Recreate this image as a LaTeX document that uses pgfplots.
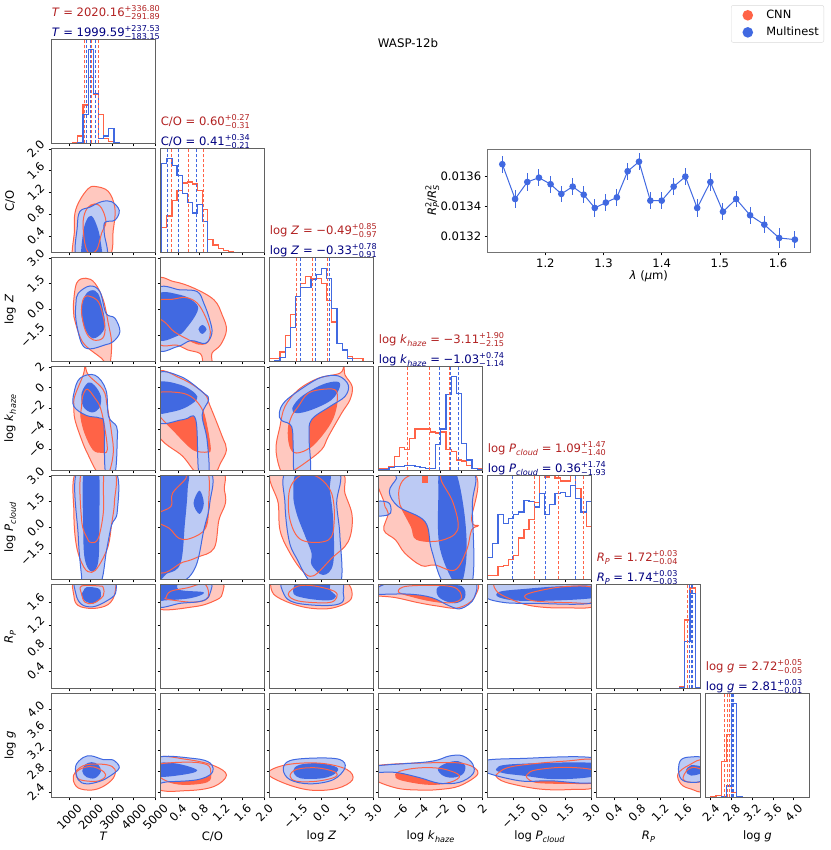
\documentclass[border=0pt]{standalone}
\usepackage{fontspec}
\setmainfont{DejaVu Sans}
\usepackage{pgfplots}
\pgfplotsset{compat=1.18}
\definecolor{tm}{HTML}{FF6347}
\definecolor{rb}{HTML}{4169E1}
\definecolor{lr}{HTML}{FFC8BF}
\definecolor{lb}{HTML}{BCCAF4}
\definecolor{fb}{HTML}{B22222}
\definecolor{nv}{HTML}{000080}
\newcommand\fsz{\fontsize{11.6}{14}\selectfont}
\newcommand\rb[1]{\rotatebox{45}{#1}}
\newcommand\sbs[1]{\raisebox{-.25em}{\fontsize{8.1}{9}\selectfont\textit{#1}}}
\newcommand\pms[2]{\makebox[0pt][l]{\raisebox{.42em}{\fontsize{8.1}{9}\selectfont #1}}\raisebox{-.32em}{\fontsize{8.1}{9}\selectfont #2}}
\newcommand\ttl[2]{%
 \node[anchor=base west,inner sep=0pt,text=fb,font=\fsz] at (axis description cs:0,1) [yshift=23.7pt] {#1};
 \node[anchor=base west,inner sep=0pt,text=nv,font=\fsz] at (axis description cs:0,1) [yshift=3.7pt] {#2};}
\pgfplotsset{
 rf/.style={smooth cycle,tension=.6,fill=lr,draw=none},
 rd/.style={smooth cycle,tension=.6,fill=tm,draw=none},
 bf/.style={smooth cycle,tension=.6,fill=lb,draw=none},
 bd/.style={smooth cycle,tension=.6,fill=rb,draw=none},
 rl/.style={smooth cycle,tension=.6,draw=tm,line width=1pt},
 bl/.style={smooth cycle,tension=.6,draw=rb,line width=1pt},
 hr/.style={const plot,color=tm,line width=1.2pt},
 hb/.style={const plot,color=rb,line width=1.2pt},
 qr/.style={color=tm,line width=1pt,dash pattern=on 3pt off 2pt},
 qb/.style={color=rb,line width=1pt,dash pattern=on 3pt off 2pt},
 P/.style n args={2}{at={({51.6pt+109pt*#1},{706.7pt-109pt*#2})},anchor=south west,scale only axis,width=103.7pt,height=103.4pt,
   axis on top,clip mode=individual,tick align=outside,tick pos=left,major tick length=3pt,
   axis line style={draw=black!62,line width=.9pt},tick style={black,line width=.7pt},
   tick label style={font=\fsz},label style={font=\fsz},
   xticklabels={},yticklabels={},
   xlabel style={at={(axis description cs:.5,-.38)},anchor=center},
   ylabel style={at={(axis description cs:-.40,.5)},anchor=center},
   xticklabel style={anchor=north,inner sep=1pt,yshift=-2pt},
   yticklabel style={anchor=east,inner sep=1pt,xshift=-2pt}},
 D/.style={ymin=0,ymax=1,ytick=\empty},
 xT/.style={xmin=178,xmax=5000,xtick={1000,2000,3000,4000,5000}},
 xC/.style={xmin=.08,xmax=2,xtick={.4,.8,1.2,1.6,2}},
 xZ/.style={xmin=-3,xmax=3,xtick={-1.5,0,1.5,3}},
 xK/.style={xmin=-8,xmax=2,xtick={-6,-4,-2,0,2}},
 xP/.style={xmin=-3,xmax=3,xtick={-1.5,0,1.5,3}},
 xR/.style={xmin=.1,xmax=1.9,xtick={.4,.8,1.2,1.6}},
 xG/.style={xmin=2.3,xmax=4.3,xtick={2.4,2.8,3.2,3.6,4}},
 yC/.style={ymin=.1,ymax=2,ytick={.4,.8,1.2,1.6,2}},
 yZ/.style={ymin=-3,ymax=3,ytick={-1.5,0,1.5,3}},
 yK/.style={ymin=-8,ymax=2,ytick={-6,-4,-2,0,2}},
 yP/.style={ymin=-3,ymax=3,ytick={-1.5,0,1.5,3}},
 yR/.style={ymin=.1,ymax=1.9,ytick={.4,.8,1.2,1.6}},
 yG/.style={ymin=2.3,ymax=4.3,ytick={2.4,2.8,3.2,3.6,4}},
 lxT/.style={xticklabels={\rb{1000},\rb{2000},\rb{3000},\rb{4000},\rb{5000}},xlabel={\textit{T}}},
 lxC/.style={xticklabels={\rb{0.4},\rb{0.8},\rb{1.2},\rb{1.6},\rb{2.0}},xlabel={C/O}},
 lxZ/.style={xticklabels={\rb{−1.5},\rb{0.0},\rb{1.5},\rb{3.0}},xlabel={log \textit{Z}}},
 lxK/.style={xticklabels={\rb{−6},\rb{−4},\rb{−2},\rb{0},\rb{2}},xlabel={log \textit{k}\sbs{haze}}},
 lxP/.style={xticklabels={\rb{−1.5},\rb{0.0},\rb{1.5},\rb{3.0}},xlabel={log \textit{P}\sbs{cloud}}},
 lxR/.style={xticklabels={\rb{0.4},\rb{0.8},\rb{1.2},\rb{1.6}},xlabel={\textit{R}\sbs{P}}},
 lxG/.style={xticklabels={\rb{2.4},\rb{2.8},\rb{3.2},\rb{3.6},\rb{4.0}},xlabel={log \textit{g}}},
 lyC/.style={yticklabels={\rb{0.4},\rb{0.8},\rb{1.2},\rb{1.6},\rb{2.0}},ylabel={C/O}},
 lyZ/.style={yticklabels={\rb{−1.5},\rb{0.0},\rb{1.5},\rb{3.0}},ylabel={log \textit{Z}}},
 lyK/.style={yticklabels={\rb{−6},\rb{−4},\rb{−2},\rb{0},\rb{2}},ylabel={log \textit{k}\sbs{haze}}},
 lyP/.style={yticklabels={\rb{−1.5},\rb{0.0},\rb{1.5},\rb{3.0}},ylabel={log \textit{P}\sbs{cloud}}},
 lyR/.style={yticklabels={\rb{0.4},\rb{0.8},\rb{1.2},\rb{1.6}},ylabel={\textit{R}\sbs{P}}},
 lyG/.style={yticklabels={\rb{2.4},\rb{2.8},\rb{3.2},\rb{3.6},\rb{4.0}},ylabel={log \textit{g}}},
}
% #1 red outer, #2 red inner, #3 blue outer, #4 blue inner
\newcommand\pan[4]{%
 \def\C##1{\addplot[rf] coordinates {##1};}#1%
 \def\C##1{\addplot[rd] coordinates {##1};}#2%
 \def\C##1{\addplot[bf] coordinates {##1};}#3%
 \def\C##1{\addplot[bd] coordinates {##1};}#4%
 \def\C##1{\addplot[rl] coordinates {##1};}#1#2%
 \def\C##1{\addplot[bl] coordinates {##1};}#3%
}
% #1 red hist, #2 blue hist, #3 red quantiles, #4 blue quantiles
\newcommand\hist[8]{%
 \addplot[hr] coordinates {#1};
 \addplot[hb] coordinates {#2};
 \addplot[qr] coordinates {(#3,0)(#3,1)};
 \addplot[qr] coordinates {(#4,0)(#4,1)};
 \addplot[qr] coordinates {(#5,0)(#5,1)};
 \addplot[qb] coordinates {(#6,0)(#6,1)};
 \addplot[qb] coordinates {(#7,0)(#7,1)};
 \addplot[qb] coordinates {(#8,0)(#8,1)};
}
\begin{document}
\begin{tikzpicture}
\path[use as bounding box] (0,0) rectangle (830pt,850pt);
\node[font=\fontsize{11.8}{15}\selectfont] at (408pt,807pt) {WASP-12b};

% ---------- inset spectrum, with the figure legend
\begin{axis}[at={(487.7pt,597.7pt)},anchor=south west,scale only axis,width=322.3pt,height=103pt,
  xmin=1.1009,xmax=1.655,ymin=.013093,ymax=.013783,axis on top,
  tick align=outside,tick pos=left,major tick length=3pt,
  axis line style={draw=black!55,line width=1pt},tick style={black,line width=.7pt},
  tick label style={font=\fsz},label style={font=\fsz},scaled y ticks=false,
  xtick={1.2,1.3,1.4,1.5,1.6},xticklabels={1.2,1.3,1.4,1.5,1.6},
  ytick={.0132,.0134,.0136},yticklabels={0.0132,0.0134,0.0136},
  xlabel={\textit{λ} (\textit{μ}m)},ylabel={\textit{R}\makebox[0pt][l]{\raisebox{.42em}{\fontsize{8.1}{9}\selectfont 2}}\sbs{P}/\textit{R}\makebox[0pt][l]{\raisebox{.42em}{\fontsize{8.1}{9}\selectfont 2}}\sbs{S}},
  xlabel style={at={(axis description cs:.5,-.237)},anchor=center},
  ylabel style={at={(axis description cs:-.172,.5)},anchor=center},
  legend style={at={(1.0434,2.40)},anchor=north east,font=\fontsize{11.4}{14}\selectfont,
    draw=black!15,rounded corners=2pt,fill=white,row sep=3pt,inner xsep=3pt,inner ysep=3pt},
  legend cell align=left]
\addlegendimage{legend image code/.code={\path[draw=none,fill=none] (0pt,-5pt) rectangle (30pt,5pt);\fill[tm,draw=none] (13.5pt,0pt) circle (5.3pt);}}
\addlegendentry{CNN}
\addlegendimage{legend image code/.code={\path[draw=none,fill=none] (0pt,-5pt) rectangle (30pt,5pt);\fill[rb,draw=none] (13.5pt,0pt) circle (5.3pt);}}
\addlegendentry{Multinest}
\addplot[rb,line width=1pt,mark=*,mark size=2.8pt,mark options={fill=rb,draw=rb},
  error bars/.cd,y dir=both,y explicit,error bar style={rb,line width=1pt},error mark=none]
 coordinates {
 (1.126,.013683) +- (0,.000056) (1.148,.01345) +- (0,.000058) (1.169,.013564) +- (0,.000062)
 (1.189,.013593) +- (0,.000056) (1.209,.013549) +- (0,.000058) (1.2275,.013484) +- (0,.000056)
 (1.247,.013533) +- (0,.000058) (1.266,.013479) +- (0,.000056) (1.285,.01339) +- (0,.000058)
 (1.304,.013426) +- (0,.000058) (1.323,.013461) +- (0,.000056) (1.3415,.013636) +- (0,.000056)
 (1.361,.0137) +- (0,.000056) (1.3805,.013439) +- (0,.000056) (1.40,.013439) +- (0,.000058)
 (1.4206,.013533) +- (0,.000056) (1.4407,.0136) +- (0,.000058) (1.461,.01339) +- (0,.000062)
 (1.4837,.013564) +- (0,.000058) (1.5054,.013365) +- (0,.000058) (1.528,.01345) +- (0,.000056)
 (1.552,.013341) +- (0,.000058) (1.5765,.013278) +- (0,.000058) (1.602,.013189) +- (0,.000065)
 (1.629,.013178) +- (0,.000058)};
\end{axis}

% ---------- diagonal histograms
\begin{axis}[P={0}{0},xT,D]
\hist{(1160,0)(1160,.01)(1400,.07)(1640,.37)(1880,.64)(2120,.47)(2360,.28)(2600,.05)(2840,.02)(3080,.01)(3320,0)}
 {(1400,0)(1400,.01)(1640,.28)(1880,.91)(2120,.48)(2360,.05)(2600,.07)(2840,.145)(3080,.01)(3320,0)}
 {1728.27}{2020.16}{2356.96}{1816.44}{1999.59}{2237.12}
\ttl{\textit{T} = 2020.16\pms{+336.80}{−291.89}}{\textit{T} = 1999.59\pms{+237.53}{−183.15}}
\end{axis}
\begin{axis}[P={1}{1},xC,D]
\hist{(.1,0)(.1,.24)(.195,.35)(.29,.5)(.385,.6)(.48,.67)(.575,.68)(.67,.66)(.765,.6)(.86,.41)(.955,.12)(1.05,.07)(1.145,.04)(1.24,.02)(1.335,.01)(1.43,0)}
 {(.1,0)(.1,.86)(.195,.91)(.29,.84)(.385,.745)(.48,.57)(.575,.48)(.67,.38)(.765,.46)(.86,.3)(.955,0)(1.05,0)}
 {.29}{.60}{.87}{.20}{.41}{.75}
\ttl{C/O = 0.60\pms{+0.27}{−0.31}}{C/O = 0.41\pms{+0.34}{−0.21}}
\end{axis}
\begin{axis}[P={2}{2},xZ,D]
\hist{(-3,0)(-3,.03)(-2.7,.03)(-2.4,.09)(-2.1,.25)(-1.8,.45)(-1.5,.63)(-1.2,.75)(-.9,.82)(-.6,.8)(-.3,.8)(0,.75)(.3,.59)(.6,.38)(.9,.17)(1.2,.11)(1.5,.05)(1.8,.03)(2.1,.03)(2.4,0)}
 {(-3,0)(-3,0)(-2.7,.01)(-2.4,.04)(-2.1,.13)(-1.8,.33)(-1.5,.63)(-1.2,.71)(-.9,.71)(-.6,.79)(-.3,.84)(0,.9)(.3,.8)(.6,.51)(.9,.17)(1.2,.11)(1.5,.03)(1.8,0)}
 {-1.46}{-.49}{.36}{-1.24}{-.33}{.45}
\ttl{log \textit{Z} = −0.49\pms{+0.85}{−0.97}}{log \textit{Z} = −0.33\pms{+0.78}{−0.91}}
\end{axis}
\begin{axis}[P={3}{3},xK,D]
\hist{(-8,0)(-8,.02)(-7.5,.02)(-7,.04)(-6.5,.13)(-6,.22)(-5.5,.2)(-5,.31)(-4.5,.4)(-4,.4)(-3.5,.4)(-3,.37)(-2.5,.36)(-2,.37)(-1.5,.2)(-1,.18)(-.5,.1)(0,.09)(.5,.05)(1,.02)(1.5,.02)(2,0)}
 {(-8,0)(-8,.01)(-7.5,.01)(-7,.03)(-6.5,.04)(-6,.04)(-5.5,.05)(-5,.05)(-4.5,.04)(-4,.03)(-3.5,.02)(-3,.02)(-2.5,.25)(-2,.4)(-1.5,.73)(-1,.91)(-.5,.74)(0,.26)(.5,.1)(1,.02)(1.5,.01)(2,0)}
 {-5.26}{-3.11}{-1.21}{-2.17}{-1.03}{-.29}
\ttl{log \textit{k}\sbs{haze} = −3.11\pms{+1.90}{−2.15}}{log \textit{k}\sbs{haze} = −1.03\pms{+0.74}{−1.14}}
\end{axis}
\begin{axis}[P={4}{4},xP,D]
\hist{(-3,0)(-3,.04)(-2.7,.04)(-2.4,.12)(-2.1,.13)(-1.8,.19)(-1.5,.23)(-1.2,.4)(-.9,.48)(-.6,.58)(-.3,.74)(0,1.1)(.3,.99)(.6,1.1)(.9,.98)(1.2,.95)(1.5,.95)(1.8,1.1)(2.1,.88)(2.4,.65)(2.7,.51)(3,0)}
 {(-3,0)(-3,.21)(-2.7,.35)(-2.4,.63)(-2.1,.54)(-1.8,.59)(-1.5,.63)(-1.2,.65)(-.9,.76)(-.6,.75)(-.3,.7)(0,.83)(.3,.63)(.6,.72)(.9,.83)(1.2,.84)(1.5,.8)(1.8,.91)(2.1,.78)(2.4,.65)(2.7,.75)(3,0)}
 {-.31}{1.09}{2.56}{-1.57}{.36}{2.10}
\ttl{log \textit{P}\sbs{cloud} = 1.09\pms{+1.47}{−1.40}}{log \textit{P}\sbs{cloud} = 0.36\pms{+1.74}{−1.93}}
\end{axis}
\begin{axis}[P={5}{5},xR,D]
\hist{(1.54,0)(1.54,.02)(1.63,.66)(1.72,.97)(1.81,.01)(1.9,0)}
 {(1.54,0)(1.54,.005)(1.63,.45)(1.72,.92)(1.81,.01)(1.9,0)}
 {1.68}{1.72}{1.75}{1.71}{1.74}{1.77}
\ttl{\textit{R}\sbs{P} = 1.72\pms{+0.03}{−0.04}}{\textit{R}\sbs{P} = 1.74\pms{+0.03}{−0.03}}
\end{axis}
\begin{axis}[P={6}{6},xG,D,lxG]
\hist{(2.4,0)(2.4,.01)(2.5,.02)(2.6,.35)(2.7,.61)(2.8,.05)(2.9,.01)(3,0)}
 {(2.6,0)(2.6,.005)(2.7,.11)(2.8,.91)(2.9,.01)(3,0)}
 {2.67}{2.72}{2.77}{2.80}{2.81}{2.84}
\ttl{log \textit{g} = 2.72\pms{+0.05}{−0.05}}{log \textit{g} = 2.81\pms{+0.03}{−0.01}}
\end{axis}

% ---------- C/O row
\begin{axis}[P={0}{1},xT,yC,lyC]
\pan{\C{(1248,-.1)(1240,.5)(1263,.82)(1495,1.06)(1883,1.27)(2193,1.31)(2813,1.22)(3123,.91)(3045,.51)(2813,0)}}
 {\C{(1650,.69)(1836,.91)(2193,.99)(2503,.91)(2705,.66)(2503,.45)(2270,.14)(1883,.1)(1697,.33)}}
 {\C{(1372,0)(1372,.57)(1495,.85)(1960,.93)(2503,1.03)(2968,1.03)(3325,.87)(3123,.69)(2658,.65)(2627,.45)(2705,0)}}
 {\C{(1620,-.05)(1620,.4)(1790,.68)(2030,.77)(2270,.6)(2445,.33)(2470,-.05)}}
\end{axis}

% ---------- log Z row
\begin{axis}[P={0}{2},xT,yZ,lyZ]
\pan{\C{(1185,.17)(1340,1.53)(1775,1.82)(2193,1.53)(2580,.56)(2813,-.79)(2968,-1.96)(2850,-3.3)(2503,-2.83)(1805,-2.15)(1495,-1.57)(1216,-.41)}}
 {\C{(1573,.17)(1728,.75)(2115,.7)(2425,.27)(2658,-.99)(2550,-1.66)(2115,-1.76)(1805,-1.37)(1620,-.6)}}
 {\C{(1310,.37)(1418,.95)(1960,1.37)(2425,1.04)(2705,-.21)(3123,-.5)(3355,-1.28)(3045,-1.86)(2658,-2.05)(1960,-2.28)(1573,-1.96)(1310,-.6)}}
 {\C{(1573,.17)(1805,.95)(2193,1.1)(2456,.56)(2658,-.99)(2193,-1.66)(1836,-1.37)(1604,-.6)}}
\end{axis}
\begin{axis}[P={1}{2},xC,yZ]
\pan{\C{(0,1.6)(.33,1.62)(.70,1.24)(1.07,.56)(1.22,-.31)(1.30,-1.18)(1.19,-2.05)(1.03,-2.54)(1.03,-3.2)(.88,-3.2)(.82,-2.57)(.58,-2.34)(.39,-2.07)(0,-1.76)}}
 {\C{(0,.5)(.30,.6)(.55,.7)(.76,.37)(.91,-.41)(1.0,-1.28)(.94,-1.92)(.76,-1.99)(.58,-1.72)(.33,-1.28)(.18,-.79)(0,-.3)}}
 {\C{(0,1.1)(.45,1.14)(.76,1.04)(.88,.37)(.99,-.6)(1.03,-1.37)(.91,-1.96)(.64,-1.8)(.39,-2.15)(0,-2.19)}}
 {\C{(0,.8)(.45,.85)(.73,.37)(.76,-.12)(.58,-.99)(.39,-1.53)(0,-1.66)}\C{(.85,-.89)(.93,-1.14)(.85,-1.41)(.78,-1.14)}}
\end{axis}

% ---------- log k row
\begin{axis}[P={0}{3},xT,yK,lyK]
\pan{\C{(1743,2.1)(1883,1.23)(2580,-.22)(2767,-1.83)(2968,-4.4)(3045,-6.33)(2813,-8.3)(2348,-8.3)(1836,-6.33)(1573,-5.04)(1263,-3.1)(1216,-1.83)(1250,-.86)(1650,1.23)}}
 {\C{(1620,-.86)(1836,-.15)(2193,-1.02)(2425,-1.83)(2612,-3.43)(2767,-6)(2503,-6.26)(2115,-6)(1728,-4.4)(1540,-2.8)(1573,-1.83)}}
 {\C{(1216,-.54)(1495,.9)(2193,1.2)(2705,-.22)(2829,-2.79)(3200,-3.76)(3230,-5.04)(3123,-8.3)(2689,-8.3)(2612,-3.6)(2425,-2.95)(1800,-2.7)(1216,-1.83)}}
 {\C{(1573,-.54)(1883,.49)(2193,.17)(2472,-.86)(2395,-1.99)(2038,-2.4)(1650,-1.83)}}
\end{axis}
\begin{axis}[P={1}{3},xC,yK]
\pan{\C{(0,1.3)(.45,.9)(.88,-.54)(1.0,-1.83)(1.22,-4.72)(1.30,-6)(1.19,-7.3)(1.07,-8.3)(.76,-8.3)(.49,-6.65)(0,-4.2)}}
 {\C{(0,-.6)(.39,-.47)(.64,-.86)(.82,-1.83)(.91,-3.1)(1.0,-5.85)(.94,-6.23)(.76,-6.17)(.61,-5.7)(.33,-4.2)(0,-2.3)}}
 {\C{(0,1.2)(.45,1.07)(.88,-.54)(.97,-1.18)(.85,-2.63)(.94,-5.04)(.97,-8.3)(.79,-8.3)(.73,-3.1)(.5,-3.1)(0,-3.2)}}
 {\C{(0,.4)(.45,.26)(.76,-.86)(.58,-1.83)(.27,-2.37)(0,-2.3)}}
\end{axis}
\begin{axis}[P={2}{3},xZ,yK]
\pan{\C{(1.30,2.1)(1.36,1.23)(1.78,.1)(1.65,-1.18)(1.17,-2.47)(.4,-4.72)(.01,-6)(-.96,-7.3)(-1.82,-8.2)(-2.31,-8.2)(-2.63,-6)(-2.4,-3.76)(-2.11,-1.83)(-1.34,-.22)(-.18,.9)(1.07,1.39)}}
 {\C{(-1.34,-1.83)(-.76,-.54)(.2,-.15)(.88,-.38)(.82,-2.15)(.4,-3.76)(-.57,-5.69)(-1.44,-6.33)(-1.82,-5.69)(-1.92,-4.08)(-1.73,-2.79)}}
 {\C{(-2.44,-2.47)(-2.11,-1.34)(-.96,.1)(.01,1)(.97,1.13)(1.55,.26)(1.36,-.86)(.49,-1.83)(-.57,-3.1)(-.72,-4.72)(-.67,-8.3)(-1.53,-8.3)(-1.63,-6)(-1.73,-3.76)(-2.31,-3.18)}}
 {\C{(-1.69,-1.99)(-1.15,-.86)(.01,.26)(.88,.58)(1.07,.1)(.59,-1.18)(-.57,-2.15)(-1.44,-2.47)}}
\end{axis}

% ---------- log P row
\begin{axis}[P={0}{4},xT,yP,lyP]
\pan{\C{(1350,3.3)(1216,.83)(1340,-1.1)(1680,-2.3)(2038,-2.6)(2380,-2.2)(2800,-1.1)(2968,.2)(3100,1.5)(3050,3.3)}}
 {\C{(1573,3.3)(1573,.44)(1836,-.62)(2038,-.87)(2348,-.62)(2580,.83)(2580,2.2)(2503,3.3)}}
 {\C{(1372,3.3)(1418,-.52)(1573,-2.85)(1620,-3.3)(2425,-3.3)(2735,-1.3)(2968,.15)(3231,.93)(3123,3.3)}}
 {\C{(1681,3.3)(1650,-.14)(1728,-1.88)(2038,-2.55)(2348,-1.97)(2394,.44)(2348,3.3)}}
\end{axis}
\begin{axis}[P={1}{4},xC,yP]
\pan{\C{(0,3.3)(1.16,3.3)(1.26,2.19)(1.28,1.41)(1.16,.44)(1.07,-1.2)(.76,-1.72)(.5,-2)(0,-2.3)}}
 {\C{(.55,3.3)(.94,3.3)(.97,1.41)(.91,-.04)(.64,-.62)(.42,-.62)(.24,-.04)(0,.35)(0,.79)(.27,1.22)(.30,1.99)(.55,2.86)}}
 {\C{(0,3.3)(.97,3.3)(.99,1.41)(.88,-.14)(.73,-2.26)(.45,-3.2)(0,-3.2)}}
 {\C{(0,3.3)(.56,3.3)(.58,2.19)(.53,.25)(.45,-2.07)(.21,-2.65)(0,-2.55)}\C{(.8,2.15)(.88,1.41)(.8,.79)(.69,1.41)}}
\end{axis}
\begin{axis}[P={2}{4},xZ,yP]
\pan{\C{(-2.8,3.3)(-2.5,1.41)(-2.4,-.14)(-1.92,-1.3)(-1.15,-2.46)(-.47,-2.8)(.59,-1.78)(1.55,-.81)(1.78,.64)(1.36,1.99)(.97,3.3)}}
 {\C{(-1.53,2.77)(-1.88,1.99)(-1.82,.44)(-1.15,-.72)(.4,-.72)(.74,.44)(.59,1.99)(-.09,2.86)(-.9,3.1)}}
 {\C{(-1.96,3.3)(-2.11,1.41)(-1.88,-.72)(-1.44,-1.78)(-.47,-3.3)(1.07,-3.3)(1.07,-.52)(.88,1.41)(.93,3.3)}}
 {\C{(-1.34,3.3)(-1.63,1.99)(-1.44,.83)(-.9,-.6)(-.57,-1.5)(-.57,-2.17)(.1,-2.75)(.68,-2.07)(.68,.44)(.49,2.19)(.4,3.3)}}
\end{axis}
\begin{axis}[P={3}{4},xK,yP]
\pan{\C{(-7.55,3.3)(-7.45,1.41)(-7.07,.83)(-7.5,-.14)(-6.36,-.72)(-5.46,-1.49)(-3.85,-2.21)(-2.57,-2.17)(-.64,-2.46)(.49,-1.3)(.97,-.14)(1.61,.12)(.97,.44)(.97,3.3)}}
 {\C{(-5.46,2.86)(-6.04,2.19)(-5.94,1.31)(-5.62,.93)(-4.82,.02)(-4.33,-.68)(-2.08,-.76)(-.38,-.14)(-.8,1.41)(-1.92,2.67)(-2.24,3.3)(-4,3.2)}}
 {\C{(-6.1,3.3)(-6.26,2.86)(-6.97,2.09)(-6.1,1.22)(-3.53,.35)(-2.89,-1.3)(-1.6,-3.3)(.97,-3.3)(1.03,1.22)(.81,3.3)}\C{(-8.5,1.47)(-7.1,1.47)(-6.8,1.02)(-7.1,.73)(-8.5,.73)}}
 {\C{(-2.08,3.3)(-2.24,1.8)(-2.24,-.52)(-1.76,-1.88)(-.64,-3.3)(0,-3.3)(.49,-1.49)(.23,1.02)(-.64,3.3)}}
\addplot[fill=tm,draw=none] coordinates {(-3.85,3.1)(-3.2,3.1)(-3.2,2.6)(-3.85,2.6)};
\end{axis}

% ---------- R_P row
\begin{axis}[P={0}{5},xT,yR,lyR]
\pan{\C{(1310,2)(1216,1.71)(1418,1.54)(2115,1.49)(2813,1.56)(3123,1.76)(2968,2)}}
 {\C{(1573,1.88)(1573,1.74)(1728,1.6)(2115,1.58)(2580,1.71)(2580,1.85)(2425,1.88)}}
 {\C{(1372,2)(1310,1.74)(1573,1.56)(2115,1.52)(2735,1.62)(3154,1.76)(2968,2)}}
 {\C{(1650,1.79)(1573,1.72)(1728,1.62)(2115,1.58)(2425,1.65)(2472,1.76)(2348,1.84)(1805,1.86)}}
\end{axis}
\begin{axis}[P={1}{5},xC,yR]
\pan{\C{(0,2)(1.13,2)(1.22,1.74)(1.07,1.62)(.7,1.52)(0,1.5)}}
 {\C{(.18,1.68)(.27,1.79)(.58,1.85)(.88,1.92)(.97,1.76)(.91,1.64)(.64,1.6)(.21,1.65)}}
 {\C{(0,1.53)(0,2)(.94,2)(.99,1.74)(.85,1.62)(.45,1.58)}}
 {\C{(0,1.63)(0,2)(.39,2)(.41,1.82)(.88,1.77)(.64,1.67)(.15,1.63)}}
\end{axis}
\begin{axis}[P={2}{5},xZ,yR]
\pan{\C{(-2.5,2)(-2.85,1.78)(-2.11,1.62)(-.76,1.5)(.68,1.5)(1.75,1.68)(1.07,2)}}
 {\C{(-1.34,1.88)(-1.92,1.74)(-1.34,1.62)(.4,1.59)(.88,1.68)(.74,1.79)(-.38,1.88)}}
 {\C{(-2.07,2)(-2.17,1.74)(-1.53,1.59)(.2,1.54)(1.17,1.59)(1.26,1.76)(.93,2)}}
 {\C{(-1.24,2)(-1.63,1.76)(-.96,1.67)(.4,1.63)(.84,1.7)(.49,1.82)(.4,2)}}
\end{axis}
\begin{axis}[P={3}{5},xK,yR]
\pan{\C{(-8.5,1.72)(-6.42,1.68)(-4.17,1.59)(-2.24,1.53)(-.32,1.5)(1.23,1.68)(.97,2)(-6.1,2)(-8.5,1.79)}}
 {\C{(-6.1,1.78)(-5.14,1.88)(-.96,1.87)(0,1.68)(-.96,1.59)(-2.89,1.62)(-4.82,1.7)}}
 {\C{(-8.5,1.74)(-5.14,1.74)(-2.89,1.68)(-1.12,1.53)(0,1.49)(1.23,1.68)(.81,2)(-5.46,2)(-8.5,1.82)}}
 {\C{(-2.4,1.76)(-2.08,1.88)(0,1.88)(.33,1.68)(-.64,1.58)(-1.92,1.65)}}
\end{axis}
\begin{axis}[P={4}{5},xP,yR]
\pan{\C{(-2.5,1.8)(-1.24,1.6)(-.09,1.52)(1.5,1.5)(3.3,1.55)(3.3,2)(-2,2)}}
 {\C{(-.86,1.7)(-.28,1.78)(1.46,1.87)(3.1,1.85)(3.1,1.6)(1.8,1.59)(-.28,1.62)}}
 {\C{(-3.3,2)(-3.3,1.72)(-2.2,1.6)(-.5,1.58)(3.3,1.6)(3.3,2)}}
 {\C{(-2.31,1.78)(-2.31,1.68)(-.67,1.62)(3.3,1.68)(3.3,1.87)(1.46,1.88)(-.86,1.83)}}
\end{axis}

% ---------- log g row
\begin{axis}[P={0}{6},xT,yG,lxT,lyG]
\pan{\C{(1185,2.64)(1418,2.48)(2038,2.44)(2580,2.51)(3045,2.67)(3123,2.84)(2735,2.93)(1800,2.93)(1300,2.8)}}
 {\C{(1310,2.77)(1495,2.64)(2270,2.61)(2658,2.69)(2612,2.79)(2115,2.89)(1650,2.87)}}
 {\C{(1294,2.9)(1650,3.07)(2038,3.1)(2580,3.03)(3045,3.02)(3325,2.87)(2890,2.71)(2425,2.61)(1805,2.56)(1418,2.64)}}
 {\C{(1604,2.8)(1728,2.93)(2038,2.98)(2348,2.93)(2472,2.8)(2193,2.67)(1805,2.69)}}
\end{axis}
\begin{axis}[P={1}{6},xC,yG,lxC]
\pan{\C{(0,2.48)(.58,2.43)(1.07,2.51)(1.30,2.73)(1.07,2.91)(.58,3.03)(0,3.05)}}
 {\C{(0,2.93)(.58,2.98)(.94,2.93)(1.01,2.77)(.94,2.6)(.5,2.55)(.18,2.62)(0,2.77)}}
 {\C{(0,3.06)(.7,3.05)(1,2.96)(1.03,2.77)(.76,2.64)(.21,2.6)(0,2.6)}}
 {\C{(0,2.95)(.39,2.95)(.76,2.82)(.45,2.73)(0,2.71)}}
\end{axis}
\begin{axis}[P={2}{6},xZ,yG,lxZ]
\pan{\C{(-3.1,2.77)(-2.21,2.58)(-.67,2.44)(.88,2.47)(1.8,2.64)(1.46,2.84)(-.09,2.96)(-2.02,2.93)}}
 {\C{(-1.82,2.71)(-1.44,2.84)(-.28,2.87)(.78,2.79)(.78,2.69)(-.28,2.61)(-1.44,2.61)}}
 {\C{(-2.21,2.84)(-1.82,3.01)(-.28,3.06)(1.07,3.03)(1.36,2.87)(.68,2.64)(-.67,2.56)(-1.82,2.64)}}
 {\C{(-1.63,2.82)(-1.24,2.93)(-.09,2.96)(.88,2.88)(.84,2.77)(.1,2.67)(-1.24,2.67)}}
\end{axis}
\begin{axis}[P={3}{6},xK,yG,lxK]
\pan{\C{(-8.5,2.66)(-6.3,2.48)(-4.05,2.44)(-2.2,2.45)(-.2,2.52)(1.58,2.76)(.45,2.94)(-2.5,2.97)(-8.5,2.9)}}
 {\C{(-6,2.8)(-4,2.87)(-1.8,2.85)(-.2,2.72)(-1.1,2.59)(-3,2.55)(-5,2.6)(-6.3,2.68)}}
 {\C{(-8.5,2.9)(-3.1,2.99)(-1.16,3.1)(.13,3.1)(1.09,2.94)(1.09,2.75)(-.2,2.59)(-2.12,2.57)(-4.05,2.68)(-6.3,2.78)(-8.5,2.79)}}
 {\C{(-2.28,2.85)(-1.47,2.96)(-.35,3.0)(.35,2.91)(.13,2.75)(-.84,2.68)(-1.8,2.72)}}
\end{axis}
\begin{axis}[P={4}{6},xP,yG,lxP]
\pan{\C{(-2.42,2.76)(-2.42,2.67)(-1.74,2.57)(0,2.46)(1.74,2.45)(3.3,2.52)(3.3,3)(1.5,3)(-1.5,2.9)}}
 {\C{(-.68,2.75)(-.2,2.83)(1.55,2.88)(3.3,2.81)(3.3,2.59)(1.55,2.57)(-.2,2.59)(-.73,2.68)}}
 {\C{(-3.3,3)(-1.16,3.05)(3.3,3.05)(3.3,2.6)(.58,2.62)(-1.16,2.62)(-3.3,2.81)}}
 {\C{(-2.5,2.85)(-1.55,2.94)(3.3,2.96)(3.3,2.72)(.97,2.65)(-.97,2.72)(-2.13,2.77)}}
\end{axis}
\begin{axis}[P={5}{6},xR,yG,lxR]
\pan{\C{(1.51,2.75)(1.57,2.55)(1.74,2.46)(1.95,2.44)(1.95,3)(1.7,2.92)}}
 {\C{(1.6,2.68)(1.66,2.81)(1.77,2.88)(1.95,2.81)(1.95,2.62)(1.74,2.59)(1.63,2.62)}}
 {\C{(1.52,2.85)(1.57,3.03)(1.74,3.08)(1.95,3.04)(1.95,2.65)(1.74,2.59)(1.57,2.65)}}
 {\C{(1.65,2.81)(1.74,2.92)(1.95,2.88)(1.95,2.78)(1.74,2.72)}}
\end{axis}
\end{tikzpicture}
\end{document}
